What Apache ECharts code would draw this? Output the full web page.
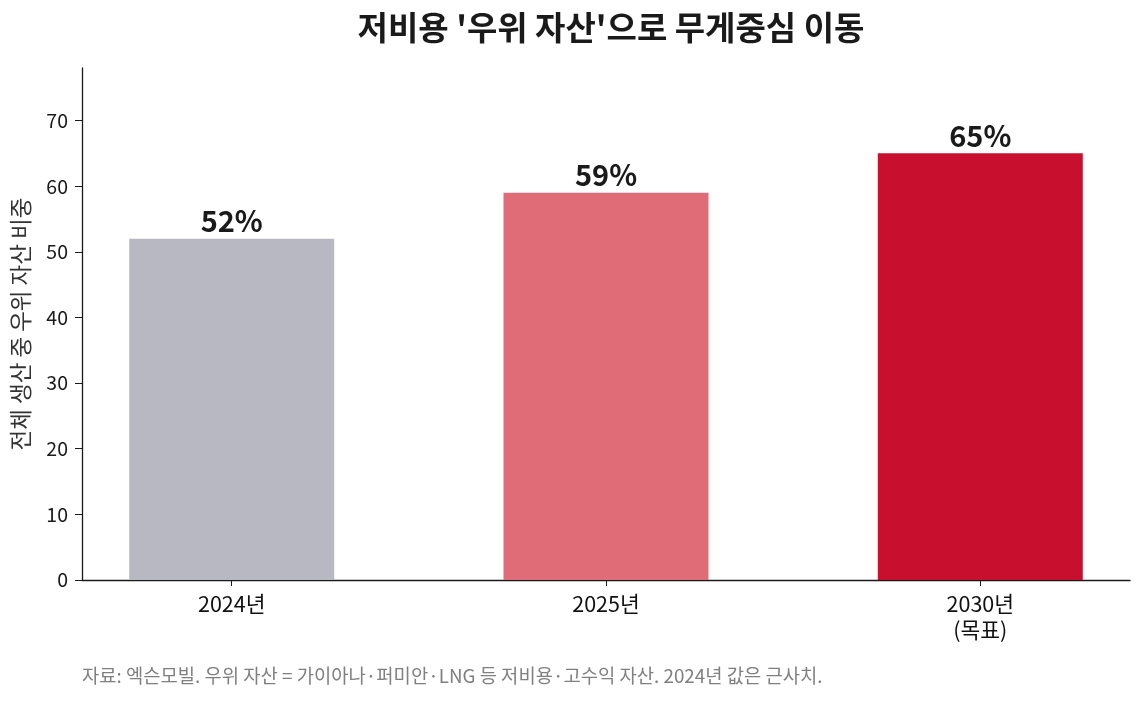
<!DOCTYPE html>
<html>
<head>
<meta charset="utf-8">
<script src="https://cdn.jsdelivr.net/npm/echarts@6/dist/echarts.min.js"></script>
<style>
  html, body { margin: 0; padding: 0; background: #fff; }
  #chart { width: 1145px; height: 702px; }
</style>
</head>
<body>
<div id="chart"></div>
<script>
// 데이터
const categories = ['2024년', '2025년', '2030년\n(목표)'];
const values = [52, 59, 65];
const barColors = ['#b8b8c2', '#e06c78', '#c8102e'];
const yTicks = [0, 10, 20, 30, 40, 50, 60, 70];

const cjk = 'Noto Sans CJK KR';
const myChart = echarts.init(document.getElementById('chart'));

const option = {
    backgroundColor: '#fff',
    animation: false,
    title: {
        text: "저비용 '우위 자산'으로 무게중심 이동",
        left: 606,
        textAlign: 'center',
        top: 6,
        textStyle: {
            fontFamily: cjk,
            fontSize: 33,
            fontWeight: 'bold',
            color: '#1a1a1a'
        }
    },
    graphic: [
        {
            type: 'text',
            left: 82,
            top: 666,
            style: {
                text: '자료: 엑슨모빌. 우위 자산 = 가이아나·퍼미안·LNG 등 저비용·고수익 자산. 2024년 값은 근사치.',
                font: '18.8px "Noto Sans CJK KR"',
                fill: '#808080'
            }
        }
    ],
    grid: {
        left: 82,
        right: 15,
        top: 68,
        bottom: 122
    },
    xAxis: {
        type: 'value',
        min: -0.4,
        max: 2.4,
        splitLine: { show: false },
        axisLine: { show: true, onZero: false, lineStyle: { color: '#1a1a1a', width: 1.3 } },
        axisTick: {
            show: true,
            customValues: [0, 1, 2],
            length: 6,
            lineStyle: { color: '#1a1a1a' }
        },
        axisLabel: {
            customValues: [0, 1, 2],
            formatter: v => categories[Math.round(v)],
            fontFamily: cjk,
            fontSize: 21.5,
            lineHeight: 26,
            color: '#111',
            margin: 11
        }
    },
    yAxis: {
        type: 'value',
        min: 0,
        max: 78,
        interval: 10,
        name: '전체 생산 중 우위 자산 비중',
        nameLocation: 'middle',
        nameGap: 50,
        nameTextStyle: {
            fontFamily: cjk,
            fontSize: 22.5,
            color: '#333'
        },
        splitLine: { show: false },
        axisLine: { show: true, onZero: false, lineStyle: { color: '#1a1a1a', width: 1.3 } },
        axisTick: { show: true, length: 7, customValues: yTicks, lineStyle: { color: '#1a1a1a' } },
        axisLabel: {
            customValues: yTicks,
            fontFamily: cjk,
            fontSize: 19.5,
            color: '#1a1a1a',
            margin: 14
        }
    },
    series: [
        {
            type: 'bar',
            barWidth: 205,
            data: values.map((v, i) => ({
                value: [i, v],
                itemStyle: { color: barColors[i] }
            })),
            label: {
                show: true,
                position: 'top',
                distance: 3,
                formatter: p => p.value[1] + '%',
                fontFamily: cjk,
                fontSize: 29,
                fontWeight: 'bold',
                color: '#1a1a1a'
            }
        }
    ]
};

myChart.setOption(option);
</script>
</body>
</html>
